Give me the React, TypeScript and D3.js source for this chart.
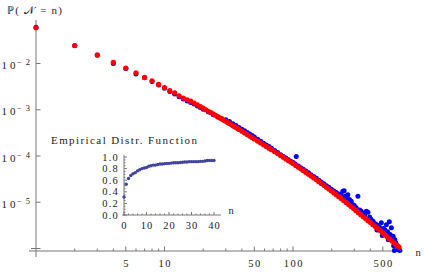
import React from "react";
import * as d3 from "d3";

const W = 425;
const H = 273;

// Model probabilities P(N = n) (red)
const redN = [1,2,3,4,5,6,7,8,9,10,11,12,13,14,15,16,17,18,19,20,21,22,23,24,25,26,27,28,29,30,31,32,33,34,35,36,37,38,40,42,44,46,48,50,53,56,59,62,65,68,72,76,80,84,88,92,96,100,105,110,115,120,126,132,138,145,152,159,166,174,182,190,199,208,217,227,237,248,259,271,283,296,309,323,337,352,368,384,401,419,437,456,476,497,519,541,565,589,615,641,668];
const redP = [0.059,0.0245,0.0154,0.0106,0.00794,0.00629,0.00499,0.00423,0.00352,0.00303,0.00261,0.00233,0.002,0.00179,0.00164,0.00153,0.0014,0.00128,0.00117,0.00108,0.001,0.000929,0.000866,0.000808,0.000757,0.00071,0.000667,0.000629,0.000593,0.000561,0.000531,0.000504,0.000478,0.000455,0.000433,0.000413,0.000394,0.000376,0.000344,0.000316,0.000292,0.00027,0.00025,0.000233,0.00021,0.000192,0.000175,0.000161,0.000148,0.000137,0.000124,0.000113,0.000103,0.0000942,0.0000866,0.0000799,0.0000741,0.0000687,0.0000626,0.0000574,0.0000527,0.0000486,0.0000442,0.0000403,0.000037,0.0000335,0.0000305,0.0000279,0.0000255,0.0000232,0.0000211,0.0000193,0.0000175,0.0000159,0.0000146,0.0000132,0.0000121,0.0000109,0.00000986,0.00000892,0.00000809,0.0000073,0.00000659,0.00000594,0.00000538,0.00000486,0.0000044,0.000004,0.00000363,0.00000328,0.00000298,0.00000271,0.00000244,0.0000022,0.00000198,0.00000179,0.00000161,0.00000145,0.00000131,0.00000118,0.00000107];

// Empirical frequencies (blue)
const blueN = [1,2,3,4,5,6,7,8,9,10,11,12,13,14,15,16,17,18,19,20,22,24,26,28,30,32,34,36,38,40,42,44,46,48,50,53,56,59,62,65,68,72,76,80,84,88,92,96,100,104,106,110,115,120,126,132,138,145,152,159,166,174,182,190,199,208,217,227,237,244,250,255,259,267,275,280,284,293,300,310,320,330,340,352,362,372,383,395,405,420,440,450,461,470,487,495,505,520,533,545,552,562,570,583,595,601,607,615,619,630,638,650,658,677];
const blueP = [0.0605,0.0243,0.015,0.01,0.0078,0.0059,0.0049,0.0041,0.00345,0.0029,0.00248,0.0022,0.0019,0.0017,0.00155,0.00144,0.00133,0.00121,0.00112,0.00102,0.00089,0.00078,0.0007,0.00064,0.00061,0.000555,0.0005,0.000455,0.000415,0.00038,0.00035,0.000322,0.000298,0.000276,0.000257,0.00023,0.000208,0.000189,0.000173,0.00016,0.000148,0.000132,0.000119,0.000107,0.0000975,0.00009,0.000083,0.000077,0.000072,0.000067,0.000098,0.000061,0.000056,0.000052,0.0000475,0.0000435,0.0000395,0.000036,0.000033,0.00003,0.0000275,0.000025,0.0000228,0.000021,0.000019,0.0000175,0.0000162,0.000015,0.0000146,0.0000172,0.0000178,0.0000135,0.0000124,0.0000146,0.0000114,0.0000098,0.0000105,0.00000887,0.0000085,0.0000076,0.0000134,0.0000068,0.0000064,0.0000056,0.0000054,0.00000635,0.00000605,0.0000048,0.0000043,0.0000039,0.0000034,0.0000025,0.00000313,0.0000029,0.00000362,0.0000019,0.0000027,0.0000025,0.00000328,0.0000023,0.00000155,0.00000381,0.000002,0.00000282,0.0000018,0.00000183,0.00000115,0.0000009,0.00000156,0.00000135,0.00000121,0.00000115,0.000000946,0.00000091];

// Inset: empirical distribution function
const cdfN = d3.range(0, 41);
const cdfF = [0.31,0.53,0.63,0.68,0.71,0.73,0.76,0.78,0.8,0.81,0.82,0.84,0.85,0.86,0.86,0.87,0.88,0.88,0.885,0.89,0.89,0.895,0.9,0.9,0.9,0.905,0.91,0.915,0.915,0.92,0.92,0.92,0.92,0.92,0.925,0.925,0.93,0.94,0.94,0.94,0.94];

const xTickLabels = [5, 10, 50, 100, 500];
const xMinorTicks = [2,3,4,6,7,8,9,20,30,40,60,70,80,90,200,300,400,600,700];
const yTickExps = [-2, -3, -4, -5, -6];
const insetXTicks = [0, 10, 20, 30, 40];
const insetYTicks = [0, 0.2, 0.4, 0.6, 0.8, 1.0];

const FONT = "'Liberation Serif', 'Times New Roman', serif";
const AX = "#777";
const TXT = "#222";

export default function App() {
  const x = d3.scaleLog().domain([1, 100]).range([36, 293]);
  const y = d3.scaleLog().domain([1e-6, 1e-2]).range([248.5, 63.5]);

  const ix = d3.scaleLinear().domain([0, 40]).range([124, 214]);
  const iy = d3.scaleLinear().domain([0, 1]).range([215, 157]);

  const blue = blueN.map((n, i) => [n, blueP[i]]);
  const red = redN.map((n, i) => [n, redP[i]]);
  const cdf = cdfN.map((n, i) => [n, cdfF[i]]);

  const xAxisY = 251;
  const yAxisX = 36;

  return (
    <svg width={W} height={H} style={{ position: "absolute", left: 0, top: 0, background: "#fff" }} fontFamily={FONT}>
      {/* main axes */}
      <line x1={29} x2={403} y1={xAxisY} y2={xAxisY} stroke={AX} strokeWidth={1} />
      <line x1={yAxisX} x2={yAxisX} y1={20} y2={257} stroke={AX} strokeWidth={1} />

      {xTickLabels.map((v) => (
        <g key={"xt" + v}>
          <line x1={x(v)} x2={x(v)} y1={xAxisY} y2={xAxisY - 4.5} stroke={AX} />
          <text x={x(v)} y={267} textAnchor="middle" fontSize={10.5} letterSpacing={1.5} dx={0.75} fill={TXT}>{v}</text>
        </g>
      ))}
      {xMinorTicks.map((v) => (
        <line key={"xm" + v} x1={x(v)} x2={x(v)} y1={xAxisY} y2={xAxisY - 2.5} stroke={AX} />
      ))}
      <text x={418} y={256} textAnchor="middle" fontSize={10.5} fill={TXT}>n</text>

      {yTickExps.map((k) => {
        const ty = y(Math.pow(10, k));
        return (
          <g key={"yt" + k}>
            <line x1={k === -6 ? 31 : yAxisX} x2={yAxisX + 4.5} y1={ty} y2={ty} stroke={AX} />
            {k !== -6 && (
              <>
                <text x={1.5} y={ty + 5.5} fontSize={11} fill={TXT} textLength={14} lengthAdjust="spacing">10</text>
                <text x={17} y={ty + 1.5} fontSize={8.5} fill={TXT} textLength={13} lengthAdjust="spacing">{"\u2212 " + (-k)}</text>
              </>
            )}
          </g>
        );
      })}
      <text x={7} y={14} fontSize={11} fill={TXT} textLength={55} lengthAdjust="spacing">{"\u2119( \u{1D4A9} = n)"}</text>

      {/* data */}
      <g fill="#0000ff">
        {blue.map(([n, p], i) => (
          <circle key={"b" + i} cx={x(n)} cy={y(p)} r={2.5} />
        ))}
      </g>
      <g fill="#ff0000">
        {red.map(([n, p], i) => (
          <circle key={"r" + i} cx={x(n)} cy={y(p)} r={2.6} />
        ))}
      </g>

      {/* inset */}
      <text x={51} y={144} fontSize={11} fill={TXT} textLength={146} lengthAdjust="spacing">Empirical Distr. Function</text>
      <line x1={122} x2={221} y1={iy(0)} y2={iy(0)} stroke={AX} />
      <line x1={ix(0)} x2={ix(0)} y1={155} y2={iy(0) + 1} stroke={AX} />
      {d3.range(0, 41, 2).map((v) => (
        <line key={"ixm" + v} x1={ix(v)} x2={ix(v)} y1={iy(0)} y2={iy(0) - (v % 10 === 0 ? 3 : 1.5)} stroke={AX} />
      ))}
      {d3.range(0, 21).map((i) => (
        <line key={"iym" + i} x1={ix(0)} x2={ix(0) + (i % 4 === 0 ? 3 : 1.5)} y1={iy(i * 0.05)} y2={iy(i * 0.05)} stroke={AX} />
      ))}
      {insetXTicks.map((v) => (
        <text key={"ixt" + v} x={ix(v)} y={229} textAnchor="middle" fontSize={10.5} letterSpacing={1.2} dx={0.6} fill={TXT}>{v}</text>
      ))}
      {insetYTicks.map((v) => (
        <text key={"iyt" + v} x={119} y={iy(v) + 3.5} textAnchor="end" fontSize={10.5} letterSpacing={1.2} fill={TXT}>{v.toFixed(1)}</text>
      ))}
      <text x={231} y={214} textAnchor="middle" fontSize={10.5} fill={TXT}>n</text>
      <g fill="#4343a0">
        {cdf.map(([n, f], i) => (
          <circle key={"c" + i} cx={ix(n)} cy={iy(f)} r={1.7} />
        ))}
      </g>
    </svg>
  );
}
